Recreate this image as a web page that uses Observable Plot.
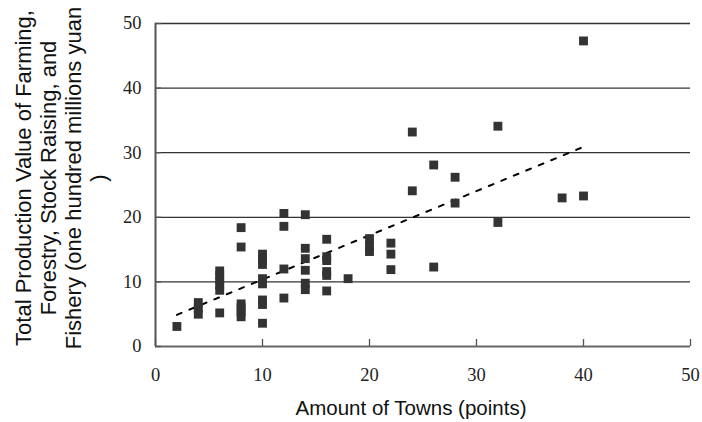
<!DOCTYPE html>
<html>
<head>
<meta charset="utf-8">
<script src="https://cdn.jsdelivr.net/npm/d3@7"></script>
<script src="https://cdn.jsdelivr.net/npm/@observablehq/plot@0.6"></script>
<style>
  html, body { margin: 0; padding: 0; background: #fff; }
  #chart svg { display: block; }
</style>
</head>
<body>
<div id="chart"></div>
<script>
// Data
const towns = [
  2,
  4, 4, 4,
  6, 6, 6, 6, 6, 6,
  8, 8, 8, 8, 8, 8,
  10, 10, 10, 10, 10, 10, 10, 10,
  12, 12, 12, 12,
  14, 14, 14, 14, 14, 14,
  16, 16, 16, 16, 16, 16,
  18,
  20, 20, 20,
  22, 22, 22,
  24, 24,
  26, 26,
  28, 28,
  32, 32,
  38,
  40, 40
];
const production = [
  3.1,
  6.8, 5.9, 5.0,
  11.7, 11.0, 10.2, 9.5, 8.7, 5.2,
  18.4, 15.4, 6.6, 6.0, 5.3, 4.6,
  14.3, 13.5, 12.7, 10.5, 9.7, 7.2, 6.5, 3.6,
  20.6, 18.6, 12.0, 7.5,
  20.4, 15.2, 13.6, 11.8, 9.8, 8.8,
  16.6, 13.9, 13.3, 11.6, 11.0, 8.6,
  10.5,
  16.7, 15.5, 14.7,
  16.0, 14.3, 11.9,
  33.2, 24.1,
  28.1, 12.3,
  26.2, 22.2,
  34.1, 19.2,
  23.0,
  47.3, 23.3
];
const trendX = [2, 40];
const trendY = [4.9, 30.9];
const xTicks = [0, 10, 20, 30, 40, 50];
const yTicks = [0, 10, 20, 30, 40, 50];
const gridY = [10, 20, 30, 40, 50];
const xTitle = "Amount of Towns (points)";
const yTitle = "Total Production Value of Farming,\nForestry, Stock Raising, and\nFishery (one hundred millions yuan\n)";

const points = towns.map((t, i) => ({x: t, y: production[i]}));
const trend = trendX.map((t, i) => ({x: t, y: trendY[i]}));

const mL = 155, mR = 12, mT = 23, mB = 76;
const W = 702, H = 422;
const plotW = W - mL - mR, plotH = H - mT - mB;

const chart = Plot.plot({
  width: W,
  height: H,
  marginLeft: mL,
  marginRight: mR,
  marginTop: mT,
  marginBottom: mB,
  style: {background: "#fff", overflow: "visible"},
  x: {domain: [0, 50]},
  y: {domain: [0, 50]},
  marks: [
    Plot.ruleY(gridY, {stroke: "#333", strokeWidth: 1.3}),
    Plot.ruleX([0], {stroke: "#555", strokeWidth: 2}),
    Plot.ruleY([0], {stroke: "#666", strokeWidth: 2}),
    Plot.tickX(xTicks, {x: d => d, stroke: "#555", strokeWidth: 1.3, insetTop: plotH - 7}),
    Plot.tickY(yTicks, {y: d => d, stroke: "#555", strokeWidth: 1.3, insetRight: plotW - 6}),
    Plot.axisX({ticks: xTicks, tickSize: 0, tickPadding: 21, fontSize: 18.5,
      fontFamily: "Liberation Serif", fill: "#222", label: null}),
    Plot.axisY({ticks: yTicks, tickSize: 0, tickPadding: 14, fontSize: 18.5,
      fontFamily: "Liberation Serif", fill: "#222", label: null}),
    Plot.line(trend, {x: "x", y: "y", stroke: "#000", strokeWidth: 2, strokeDasharray: "5,8.5"}),
    Plot.dot(points, {x: "x", y: "y", symbol: "square", r: 5, fill: "#333", stroke: "none"}),
    Plot.text([xTitle], {text: d => d, frameAnchor: "bottom", dx: -12, dy: 62,
      fontSize: 20.5, fontFamily: "Liberation Sans", fill: "#111", lineAnchor: "middle"}),
    Plot.text([yTitle], {text: d => d, frameAnchor: "left", dx: -95, dy: -7, rotate: -90,
      fontSize: 22, lineHeight: 1.14, fontFamily: "Liberation Sans", fill: "#111",
      textAnchor: "middle", lineAnchor: "middle"})
  ]
});
document.getElementById("chart").appendChild(chart);
</script>
</body>
</html>
